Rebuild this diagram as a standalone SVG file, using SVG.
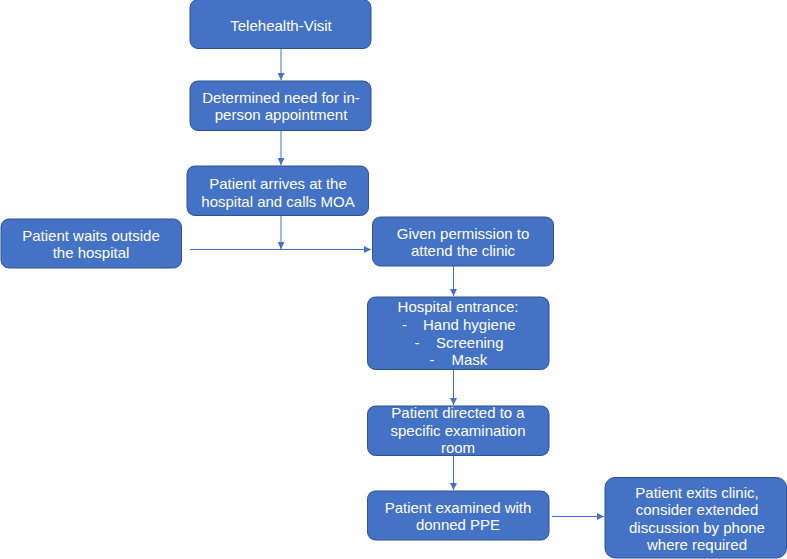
<svg xmlns="http://www.w3.org/2000/svg" width="787" height="559" viewBox="0 0 787 559">
<defs>
<style>
.box{fill:#4472C4;stroke:#2F528F;stroke-width:1}
.t{font-family:"Liberation Sans",Arial,sans-serif;font-size:15px;fill:#fff;text-anchor:middle}
.ts{font-family:"Liberation Sans",Arial,sans-serif;font-size:15px;fill:#fff;text-anchor:start}
.c{stroke:#4472C4;stroke-width:1;fill:none;marker-end:url(#ah)}
</style>
<marker id="ah" viewBox="0 0 10 10" refX="10" refY="5" markerUnits="userSpaceOnUse" markerWidth="7" markerHeight="7" orient="auto">
<path d="M0,0 L10,5 L0,10 z" fill="#4472C4"/>
</marker>
</defs>
<rect width="787" height="559" fill="#fff"/>
<g id="connectors">
<line class="c" x1="281" y1="49" x2="281" y2="80"/>
<line class="c" x1="281" y1="131" x2="281" y2="165"/>
<line class="c" x1="281" y1="216" x2="281" y2="249"/>
<line class="c" x1="190" y1="249.5" x2="371" y2="249.5"/>
<line class="c" x1="453.5" y1="266" x2="453.5" y2="296"/>
<line class="c" x1="453.5" y1="370" x2="453.5" y2="405"/>
<line class="c" x1="453.5" y1="456" x2="453.5" y2="490"/>
<line class="c" x1="552" y1="516.5" x2="604" y2="516.5"/>
</g>
<g id="n1">
<rect class="box" x="190" y="-0.5" width="181" height="49" rx="8"/>
<text class="t" x="281" y="30.5">Telehealth-Visit</text>
</g>
<g id="n2">
<rect class="box" x="190" y="81" width="181" height="49.5" rx="8"/>
<text class="t" x="281" y="103">Determined need for in-</text>
<text class="t" x="281" y="120">person appointment</text>
</g>
<g id="n3">
<rect class="box" x="187" y="166" width="181.5" height="49.5" rx="8"/>
<text class="t" x="278" y="188.5">Patient arrives at the</text>
<text class="t" x="278" y="206.5">hospital and calls MOA</text>
</g>
<g id="n4">
<rect class="box" x="1" y="219" width="180.5" height="49" rx="8"/>
<text class="t" x="91" y="240.5">Patient waits outside</text>
<text class="t" x="91" y="257.5">the hospital</text>
</g>
<g id="n5">
<rect class="box" x="372.5" y="217" width="181" height="49" rx="8"/>
<text class="t" x="463" y="238.5">Given permission to</text>
<text class="t" x="463" y="255.5">attend the clinic</text>
</g>
<g id="n6">
<rect class="box" x="367.5" y="297" width="181.5" height="72.5" rx="8"/>
<text class="t" x="458" y="311.5">Hospital entrance:</text>
<text class="ts" x="402" y="329.5">-</text>
<text class="ts" x="423" y="329.5">Hand hygiene</text>
<text class="ts" x="414.5" y="347.5">-</text>
<text class="ts" x="436" y="347.5">Screening</text>
<text class="ts" x="429.5" y="365">-</text>
<text class="ts" x="451.5" y="365">Mask</text>
</g>
<g id="n7">
<rect class="box" x="367.5" y="406" width="181.5" height="49.5" rx="8"/>
<text class="t" x="458" y="418">Patient directed to a</text>
<text class="t" x="458" y="435.5">specific examination</text>
<text class="t" x="458" y="453">room</text>
</g>
<g id="n8">
<rect class="box" x="367.5" y="491" width="181.5" height="49" rx="8"/>
<text class="t" x="458" y="512.5">Patient examined with</text>
<text class="t" x="458" y="530">donned PPE</text>
</g>
<g id="n9">
<rect class="box" x="605" y="477.5" width="181.5" height="80.5" rx="10"/>
<text class="t" x="697" y="497.5">Patient exits clinic,</text>
<text class="t" x="697" y="515">consider extended</text>
<text class="t" x="697" y="532.5">discussion by phone</text>
<text class="t" x="697" y="550">where required</text>
</g>
</svg>
